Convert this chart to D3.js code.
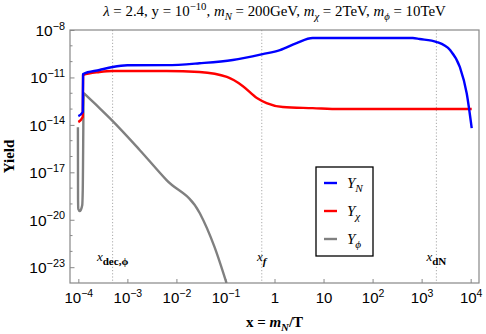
<!DOCTYPE html>
<html>
<head>
<meta charset="utf-8">
<script src="https://cdn.jsdelivr.net/npm/d3@7"></script>
<style>
  body { margin: 0; background: #fff; }
  svg { display: block; }
  text { fill: #000; }
</style>
</head>
<body>
<svg width="486" height="334"></svg>
<script>
(function (d3) {
  "use strict";

  // Y_N (blue)
  const xN = [1.0e-4, 1.23e-4, 1.25e-4, 2.7e-4, 5.0e-4, 1.0e-3, 6.3e-3, 0.0295, 0.141, 0.575, 1.29, 2.82, 6.0, 29.5, 661, 910, 2040, 3800, 6000, 8300, 10500];
  const yN = [3.6e-14, 6.5e-14, 1.66e-11, 2.95e-11, 4.6e-11, 5.9e-11, 6.0e-11, 7.9e-11, 1.26e-10, 3.0e-10, 5.4e-10, 1.5e-9, 3.1e-9, 3.1e-9, 3.1e-9, 2.7e-9, 1.74e-9, 5.4e-10, 4.6e-11, 1.0e-12, 6.3e-15];

  // Y_chi (red)
  const xChi = [1.0e-4, 1.23e-4, 1.25e-4, 2.7e-4, 5.0e-4, 6.3e-3, 0.0295, 0.107, 0.224, 0.437, 0.69, 1.48, 6.0, 21.4, 10500];
  const yChi = [1.5e-14, 3.1e-14, 1.41e-11, 2.2e-11, 2.57e-11, 2.57e-11, 2.2e-11, 1.07e-11, 2.9e-12, 5.0e-13, 2.4e-13, 1.35e-13, 1.15e-13, 1.0e-13, 1.0e-13];

  // Y_phi (gray)
  const xPhi = [9.8e-5, 9.86e-5, 1.0e-4, 1.07e-4, 1.2e-4, 1.23e-4, 1.29e-4, 1.41e-4, 2.7e-4, 4.8e-4, 1.78e-3, 6.3e-3, 0.030, 0.060, 0.105];
  const yPhi = [7.2e-15, 1.74e-19, 4.7e-20, 3.5e-20, 8.3e-20, 7.4e-19, 1.02e-12, 7.8e-13, 1.15e-13, 2.0e-14, 2.6e-16, 3.2e-18, 2.6e-20, 1.86e-22, 1.0e-24];

  const xTicks = [1e-4, 1e-3, 1e-2, 1e-1, 1, 10, 100, 1e3, 1e4];
  const xTickLabels = [["10", "−4"], ["10", "−3"], ["10", "−2"], ["10", "−1"], ["1", ""], ["10", ""], ["10", "2"], ["10", "3"], ["10", "4"]];
  const yTicks = [1e-23, 1e-20, 1e-17, 1e-14, 1e-11, 1e-8];
  const yTickLabels = [["10", "−23"], ["10", "−20"], ["10", "−17"], ["10", "−14"], ["10", "−11"], ["10", "−8"]];
  const yMinorTicks = [1e-22, 1e-21, 1e-19, 1e-18, 1e-16, 1e-15, 1e-13, 1e-12, 1e-10, 1e-9];

  const markX = [5e-4, 0.55, 2000];
  const markSub = ["dec,ϕ", "f", "dN"];

  const svg = d3.select("svg");
  const serif = "'Liberation Serif', 'DejaVu Serif', serif";
  const sans = "'Liberation Sans', Arial, sans-serif";

  const left = 70, right = 479, top = 30, bottom = 283;

  const xScale = d3.scaleLog().domain([6.76e-5, 1.479e4]).range([left, right]);
  const yScale = d3.scaleLog().domain([1e-24, 1e-8]).range([bottom, top]);

  // rich text helper: parts = [{t, sup, sub, i, b}]
  const rich = (sel, parts, size) => {
    let shift = 0;
    parts.forEach((p) => {
      const target = p.sup ? -size * 0.42 : p.sub ? size * 0.28 : 0;
      const ts = sel.append("tspan").attr("dy", target - shift).attr("fill", "#000").text(p.t);
      shift = target;
      if (p.sup || p.sub) ts.attr("font-size", size * (p.fs || 0.72));
      if (p.i) ts.attr("font-style", "italic");
      if (p.b) ts.attr("font-weight", "bold");
    });
  };

  svg.append("defs").append("clipPath").attr("id", "clip")
    .append("rect").attr("x", left).attr("y", top)
    .attr("width", right - left).attr("height", bottom - top);

  // marker lines
  svg.append("g").selectAll("line").data(markX).enter().append("line")
    .attr("x1", (d) => xScale(d)).attr("x2", (d) => xScale(d))
    .attr("y1", top).attr("y2", bottom)
    .attr("stroke", "#aaa").attr("stroke-width", 1)
    .attr("stroke-dasharray", "1.2,2");

  // axes
  const xAxisG = svg.append("g")
    .attr("transform", `translate(0,${bottom})`)
    .call(d3.axisBottom(xScale).tickValues(xTicks).tickSizeInner(-4).tickSizeOuter(0).tickFormat(""));
  xAxisG.select(".domain").remove();
  xAxisG.selectAll(".tick line").attr("stroke", "#888");
  xAxisG.selectAll(".tick").each(function (d, i) {
    const t = d3.select(this).append("text")
      .attr("y", 20).attr("text-anchor", "middle")
      .attr("font-family", sans).attr("font-size", 15);
    const lab = xTickLabels[i];
    const parts = [{ t: lab[0] }];
    if (lab[1]) parts.push({ t: lab[1], sup: true, fs: 0.7 });
    rich(t, parts, 15);
  });

  const yAxisG = svg.append("g")
    .attr("transform", `translate(${left},0)`)
    .call(d3.axisLeft(yScale).tickValues(yTicks).tickSizeInner(-4.5).tickSizeOuter(0).tickFormat(""));
  yAxisG.select(".domain").remove();
  yAxisG.selectAll(".tick line").attr("stroke", "#888");
  yAxisG.selectAll(".tick").each(function (d, i) {
    const t = d3.select(this).append("text")
      .attr("x", -5).attr("y", 5.5).attr("text-anchor", "end")
      .attr("font-family", sans).attr("font-size", 15.5);
    const lab = yTickLabels[i];
    rich(t, [{ t: lab[0] }, { t: lab[1], sup: true, fs: 0.7 }], 15.5);
  });

  svg.append("g").selectAll("line").data(yMinorTicks).enter().append("line")
    .attr("x1", left).attr("x2", left + 2.5)
    .attr("y1", (d) => yScale(d)).attr("y2", (d) => yScale(d))
    .attr("stroke", "#888");

  // frame
  svg.append("rect")
    .attr("x", left).attr("y", top)
    .attr("width", right - left).attr("height", bottom - top)
    .attr("fill", "none").attr("stroke", "#888").attr("stroke-width", 1.2);

  // curves
  const series = [
    { xs: xPhi, ys: yPhi, color: "#808080" },
    { xs: xChi, ys: yChi, color: "#ff0000" },
    { xs: xN, ys: yN, color: "#0000ff" },
  ];
  const line = d3.line()
    .x((d) => xScale(d[0]))
    .y((d) => yScale(d[1]))
    .curve(d3.curveMonotoneX);
  const curvesG = svg.append("g").attr("clip-path", "url(#clip)");
  series.forEach((s) => {
    curvesG.append("path")
      .datum(s.xs.map((v, i) => [v, s.ys[i]]))
      .attr("d", line)
      .attr("fill", "none")
      .attr("stroke", s.color)
      .attr("stroke-width", 2.4)
      .attr("stroke-linejoin", "round");
  });

  // marker labels
  markX.forEach((m, i) => {
    const t = svg.append("text")
      .attr("x", xScale(m)).attr("y", 261).attr("text-anchor", "middle")
      .attr("font-family", serif).attr("font-size", 13);
    rich(t, [{ t: "x", i: true }, { t: markSub[i], sub: true, b: true, i: markSub[i] === "f", fs: 0.85 }], 13);
  });

  // legend
  const legend = [
    { sub: "N", color: "#0000ff" },
    { sub: "χ", color: "#ff0000" },
    { sub: "ϕ", color: "#808080" },
  ];
  svg.append("rect")
    .attr("x", 316).attr("y", 167).attr("width", 57).attr("height", 89)
    .attr("fill", "#fff").attr("stroke", "#000").attr("stroke-width", 1.3);
  legend.forEach((l, i) => {
    const yy = 183 + i * 28;
    svg.append("line")
      .attr("x1", 324).attr("x2", 337).attr("y1", yy).attr("y2", yy)
      .attr("stroke", l.color).attr("stroke-width", 2.4);
    const t = svg.append("text")
      .attr("x", 347).attr("y", yy + 5)
      .attr("font-family", serif).attr("font-size", 15);
    rich(t, [{ t: "Y", i: true }, { t: l.sub, sub: true, i: true, fs: 0.75 }], 15);
  });

  // title
  const title = svg.append("text")
    .attr("x", 274.5).attr("y", 16).attr("text-anchor", "middle")
    .attr("font-family", serif).attr("font-size", 14.9);
  rich(title, [
    { t: "λ", i: true }, { t: " = 2.4, y = 10" }, { t: "−10", sup: true },
    { t: ", " }, { t: "m", i: true }, { t: "N", sub: true, i: true },
    { t: " = 200GeV, " }, { t: "m", i: true }, { t: "χ", sub: true, i: true },
    { t: " = 2TeV, " }, { t: "m", i: true }, { t: "ϕ", sub: true, i: true },
    { t: " = 10TeV" },
  ], 14.9);

  // axis labels
  const xl = svg.append("text")
    .attr("x", 274.5).attr("y", 327).attr("text-anchor", "middle")
    .attr("font-family", serif).attr("font-size", 15).attr("font-weight", "bold");
  rich(xl, [{ t: "x = " }, { t: "m", i: true }, { t: "N", sub: true, i: true }, { t: "/T" }], 15);

  svg.append("text")
    .attr("transform", `translate(14,${(top + bottom) / 2}) rotate(-90)`)
    .attr("text-anchor", "middle")
    .attr("font-family", serif).attr("font-size", 15).attr("font-weight", "bold")
    .text("Yield");
})(d3);
</script>
</body>
</html>
